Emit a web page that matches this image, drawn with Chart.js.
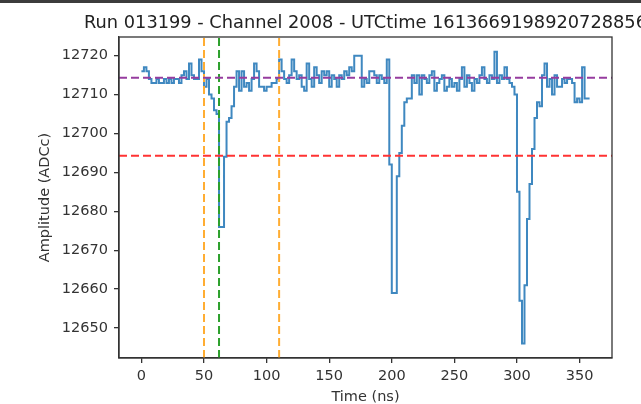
<!DOCTYPE html>
<html>
<head>
<meta charset="utf-8">
<script src="https://cdn.jsdelivr.net/npm/chart.js@4"></script>
<style>
  html, body { margin: 0; padding: 0; background: #fff; }
  canvas { display: block; }
</style>
</head>
<body>
<canvas id="waveform" width="641" height="404"></canvas>
<script>
const SAMPLE_NS = 2;

// amplitude per sample (ADCc), one every 2 ns starting at t = 0
const amplitude = [
    12716, 12717, 12716, 12714, 12713, 12713, 12714, 12713, 12713, 12714,
    12713, 12714, 12713, 12714, 12714, 12713, 12715, 12716, 12714, 12718,
    12715, 12714, 12714, 12719, 12716, 12712, 12714, 12710, 12709, 12706,
    12705, 12676, 12676, 12694, 12703, 12704, 12707, 12712, 12716, 12711,
    12716, 12712, 12713, 12711, 12714, 12718, 12716, 12712, 12712, 12711,
    12712, 12712, 12713, 12713, 12714, 12719, 12716, 12714, 12713, 12715,
    12719, 12716, 12714, 12715, 12712, 12711, 12718, 12714, 12712, 12717,
    12715, 12713, 12716, 12715, 12716, 12712, 12715, 12714, 12712, 12715,
    12714, 12716, 12715, 12717, 12716, 12720, 12720, 12720, 12712, 12714,
    12713, 12716, 12716, 12715, 12713, 12715, 12714, 12713, 12719, 12692,
    12659, 12659, 12689, 12695, 12702, 12708, 12709, 12709, 12715, 12713,
    12715, 12710, 12715, 12714, 12713, 12715, 12716, 12711, 12713, 12714,
    12715, 12711, 12712, 12714, 12712, 12713, 12711, 12714, 12717, 12712,
    12715, 12713, 12711, 12714, 12713, 12715, 12717, 12714, 12713, 12715,
    12714, 12721, 12713, 12715, 12714, 12717, 12714, 12713, 12712, 12710,
    12685, 12657, 12646, 12661, 12678, 12687, 12696, 12704, 12708, 12707,
    12715, 12718, 12712, 12714, 12710, 12715, 12712, 12712, 12714, 12713,
    12714, 12714, 12713, 12708, 12709, 12708, 12717, 12709, 12709, 12709
];

const baselineLevel = [12714.3];
const thresholdLevel = [12694.3];
const windowEdges = [50, 110];
const peakTime = [62];

const xTicks = [0, 50, 100, 150, 200, 250, 300, 350];
const yTicks = [12650, 12660, 12670, 12680, 12690, 12700, 12710, 12720];

const X_MIN = -17.9, X_MAX = 375.9;
const Y_MIN = 12642.3, Y_MAX = 12724.8;

const TITLE = 'Run 013199 - Channel 2008 - UTCtime 1613669198920728856';
const FONT = '"DejaVu Sans", sans-serif';
const INK = '#333';
const tickFont = { family: FONT, size: 14.5 };
const labelFont = { family: FONT, size: 14.5, lineHeight: 1 };

const trace = amplitude.map((v, i) => ({ x: i * SAMPLE_NS, y: v }));
const hLine = (y) => [{ x: X_MIN, y }, { x: X_MAX, y }];
const vLine = (x) => [{ x, y: Y_MIN }, { x, y: Y_MAX }];

const dashed = (data, color) => ({
    data,
    borderColor: color,
    borderWidth: 2,
    borderDash: [8, 4],
    pointRadius: 0,
    order: 1,
});

const pagePlugin = {
    id: 'page',
    beforeDraw(chart) {
        const { ctx, width } = chart;
        ctx.save();
        ctx.fillStyle = '#fff';
        ctx.fillRect(0, 0, width, chart.height);
        ctx.fillStyle = '#3c3c3c';
        ctx.fillRect(0, 0, width, 3);
        ctx.restore();
    },
    afterDraw(chart) {
        const { ctx, chartArea: a } = chart;
        ctx.save();
        ctx.strokeStyle = INK;
        ctx.lineWidth = 1.3;
        ctx.strokeRect(a.left, a.top, a.right - a.left, a.bottom - a.top);
        ctx.fillStyle = '#222';
        ctx.font = '17.8px ' + FONT;
        ctx.textAlign = 'center';
        ctx.textBaseline = 'alphabetic';
        ctx.fillText(TITLE, (a.left + a.right) / 2, 28);
        ctx.restore();
    },
};

const axisStyle = {
    grid: { drawOnChartArea: false, drawTicks: true, tickLength: 5, color: INK, lineWidth: 1.3 },
    border: { color: INK, width: 1.3 },
};

new Chart(document.getElementById('waveform'), {
    type: 'line',
    data: {
        datasets: [
            dashed(hLine(baselineLevel[0]), '#963c9f'),
            dashed(hLine(thresholdLevel[0]), '#ff3333'),
            dashed(vLine(windowEdges[0]), '#ffad33'),
            dashed(vLine(windowEdges[1]), '#ffad33'),
            dashed(vLine(peakTime[0]), '#2ca02c'),
            {
                data: trace,
                borderColor: '#3f88c0',
                borderWidth: 2,
                stepped: true,
                pointRadius: 0,
                order: 2,
            },
        ],
    },
    options: {
        responsive: false,
        animation: false,
        devicePixelRatio: 1,
        layout: { padding: { top: 37, right: 29, left: 0, bottom: 0 } },
        plugins: { legend: { display: false }, tooltip: { enabled: false } },
        scales: {
            x: {
                type: 'linear',
                min: X_MIN,
                max: X_MAX,
                ...axisStyle,
                afterBuildTicks: (s) => { s.ticks = xTicks.map((value) => ({ value })); },
                afterFit: (s) => { s.height = 46; },
                ticks: { font: tickFont, color: INK, padding: 5, maxRotation: 0, callback: (v) => String(v) },
                title: { display: true, text: 'Time (ns)', font: labelFont, color: INK, padding: { top: 0, bottom: 0 } },
            },
            y: {
                min: Y_MIN,
                max: Y_MAX,
                ...axisStyle,
                afterBuildTicks: (s) => { s.ticks = yTicks.map((value) => ({ value })); },
                afterFit: (s) => { s.width = 119; },
                ticks: { font: tickFont, color: INK, padding: 6, callback: (v) => String(v) },
                title: { display: true, text: 'Amplitude (ADCc)', font: labelFont, color: INK, padding: { top: 38, bottom: 0 } },
            },
        },
    },
    plugins: [pagePlugin],
});
</script>
</body>
</html>
